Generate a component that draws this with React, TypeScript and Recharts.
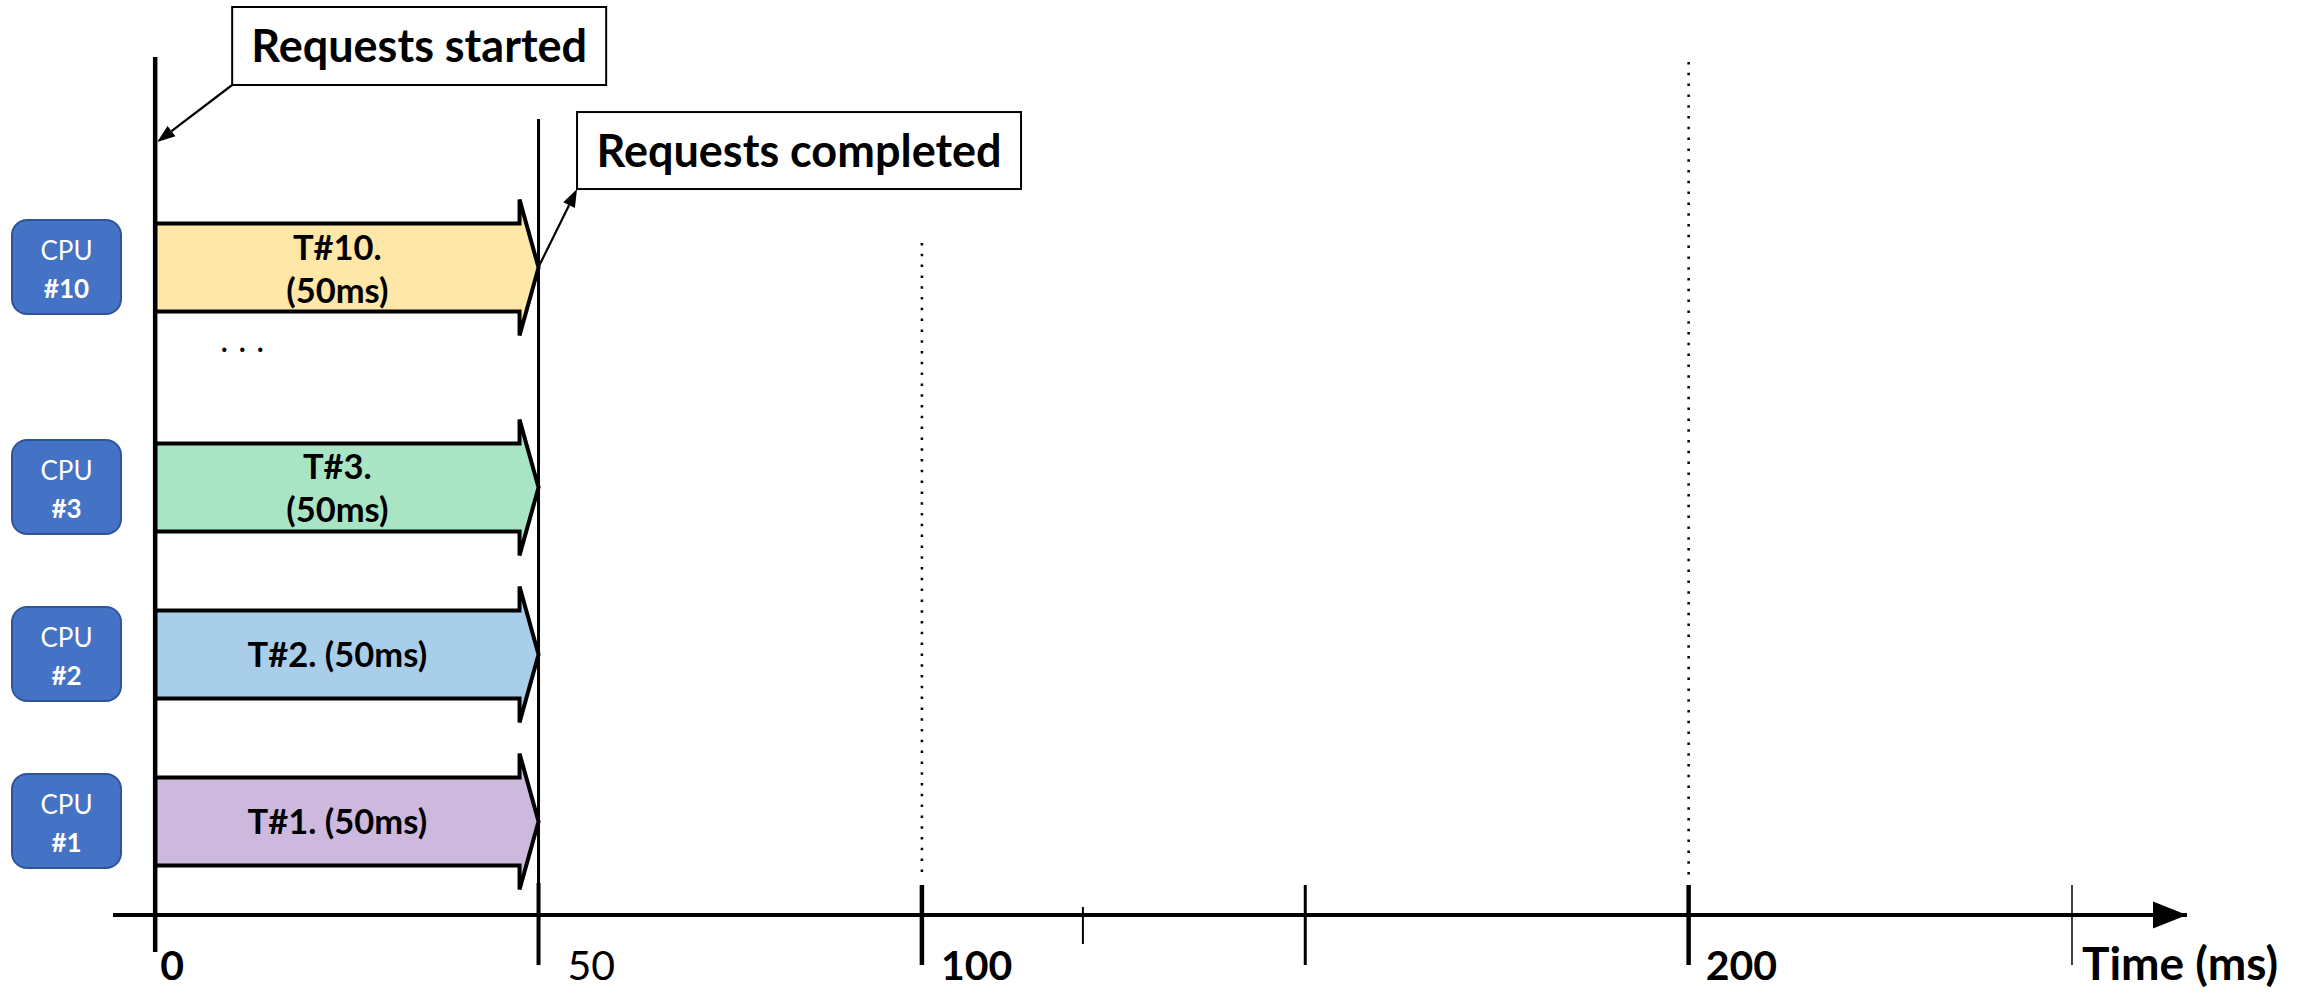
import React from 'react';
import { ComposedChart, Bar, XAxis, YAxis, ReferenceLine, ReferenceDot } from 'recharts';

// ---- data ----
const cpuIds = [1, 2, 3, 10];
const taskStarts = [0, 0, 0, 0];
const taskEnds = [50, 50, 50, 50];
const taskLabels = ['T#1. (50ms)', 'T#2. (50ms)', 'T#3.\n(50ms)', 'T#10.\n(50ms)'];

const timeTicks = [0, 50, 100, 121, 150, 200, 250];
const timeTickLabels = ['0', '50', '100', '', '', '200', 'Time (ms)'];

const startedAt = 0;
const completedAt = 50;
const guideTimes = [100, 200];

// ---- layout ----
const W = 2307;
const H = 994;
const PLOT_LEFT = 113;
const PLOT_RIGHT = 2187;
const AXIS_Y = 915;
const X_DOMAIN: [number, number] = [-5.5, 265];
const LANE_PX = 167;
const Y_MIN = 0.437;
const Y_MAX = Y_MIN + AXIS_Y / LANE_PX;
const ROWS_BEFORE_GAP = 3;
const ELLIPSIS_GAP = 0.317;

const laneOf = (i: number) => i + 1 + (i >= ROWS_BEFORE_GAP ? ELLIPSIS_GAP : 0);
const pxToLane = (py: number) => Y_MAX - py / LANE_PX;

const FONT = "Lato, 'Noto Sans', sans-serif";
const TASK_FILLS = ['#CDB9DE', '#A9CEE9', '#A9E5C5', '#FFE7A7'];

const TICK_STYLE: Record<number, { w: number; up: number; down: number; dx: number; bold: boolean; fs: number }> = {
  0: { w: 4.5, up: 0, down: 37, dx: 5, bold: true, fs: 41 },
  50: { w: 4, up: 32, down: 50, dx: 29, bold: false, fs: 41 },
  100: { w: 4.5, up: 30, down: 50, dx: 19, bold: true, fs: 41 },
  121: { w: 2, up: 8, down: 29, dx: 0, bold: false, fs: 41 },
  150: { w: 3, up: 30, down: 50, dx: 0, bold: false, fs: 41 },
  200: { w: 4.5, up: 30, down: 50, dx: 17, bold: true, fs: 41 },
  250: { w: 1.5, up: 30, down: 50, dx: 10, bold: true, fs: 46 },
};

const lanes = cpuIds.map((_, i) => laneOf(i));

const chartData = cpuIds.map((id, i) => ({
  cpu: id,
  lane: lanes[i],
  span: [taskStarts[i], taskEnds[i]],
  label: taskLabels[i],
}));

const arrowHead = (fx: number, fy: number, tx: number, ty: number, len = 18, wid = 13) => {
  const d = Math.hypot(tx - fx, ty - fy);
  const ux = (tx - fx) / d;
  const uy = (ty - fy) / d;
  const bx = tx - ux * len;
  const by = ty - uy * len;
  const nx = -uy * (wid / 2);
  const ny = ux * (wid / 2);
  return { bx, by, pts: `${tx},${ty} ${bx + nx},${by + ny} ${bx - nx},${by - ny}` };
};

const TaskArrow = (props: any) => {
  const { x, y, width, height, payload, index } = props;
  const cy = y + height / 2;
  const top = cy - 44;
  const bot = cy + 44;
  const tip = x + width;
  const notch = tip - 19;
  const barb = 24;
  const pts = [
    [x, top], [notch, top], [notch, top - barb], [tip, cy],
    [notch, bot + barb], [notch, bot], [x, bot],
  ].map((p) => p.join(',')).join(' ');
  const lines: string[] = payload.label.split('\n');
  const tx = (x + notch) / 2;
  const baselines = lines.length > 1 ? [cy - 8, cy + 35] : [cy + 13];
  return (
    <g>
      <polygon points={pts} fill={TASK_FILLS[index]} stroke="#000" strokeWidth={4} strokeMiterlimit={2} />
      {lines.map((t, k) => (
        <text key={k} x={tx} y={baselines[k]} textAnchor="middle" fontFamily={FONT} fontWeight={700} fontSize={34.5} fill="#000">
          {t}
        </text>
      ))}
    </g>
  );
};

const CpuTick = (props: any) => {
  const { x, y, payload } = props;
  const i = lanes.findIndex((l) => Math.abs(l - payload.value) < 1e-6);
  if (i < 0) return null;
  const left = x - 101;
  const cx = left + 54.5;
  return (
    <g>
      <rect x={left} y={y - 47} width={109} height={94} rx={15} fill="#4472C4" stroke="#2F5597" strokeWidth={2} />
      <text x={cx} y={y - 7} textAnchor="middle" fontFamily={FONT} fontSize={26} fill="#fff">CPU</text>
      <text x={cx} y={y + 31} textAnchor="middle" fontFamily={FONT} fontWeight={700} fontSize={26} fill="#fff">
        #{cpuIds[i]}
      </text>
    </g>
  );
};

const TimeTick = (props: any) => {
  const { x, y, payload } = props;
  const v = payload.value;
  const s = TICK_STYLE[v];
  const i = timeTicks.indexOf(v);
  const label = i >= 0 ? timeTickLabels[i] : '';
  return (
    <g>
      <line x1={x} x2={x} y1={y - s.up} y2={y + s.down} stroke="#000" strokeWidth={s.w} />
      {label && (
        <text x={x + s.dx} y={y + 65} fontFamily={FONT} fontSize={s.fs} fontWeight={s.bold ? 700 : 400} fill="#000">
          {label}
        </text>
      )}
    </g>
  );
};

const Callout = ({ cx, cy, dx, dy, w, h, text, pointAtBox }: any) => {
  // box's near corner sits at (cx + dx, cy + dy)
  const bx = cx + dx;
  const corner = { x: bx, y: cy + dy };
  const boxTop = dy < 0 ? corner.y - h : corner.y;
  const from = pointAtBox ? { x: cx, y: cy } : corner;
  const to = pointAtBox ? corner : { x: cx + 2, y: cy };
  const head = arrowHead(from.x, from.y, to.x, to.y);
  return (
    <g>
      <line x1={from.x} y1={from.y} x2={head.bx} y2={head.by} stroke="#000" strokeWidth={2.2} />
      <polygon points={head.pts} fill="#000" />
      <rect x={bx} y={boxTop} width={w} height={h} fill="#fff" stroke="#000" strokeWidth={2} />
      <text x={bx + w / 2} y={boxTop + h / 2 + 16} textAnchor="middle" fontFamily={FONT} fontWeight={700} fontSize={45} fill="#000">
        {text}
      </text>
    </g>
  );
};

export default function App() {
  return (
    <div style={{ position: 'absolute', left: 0, top: 0, background: '#fff' }}>
      <ComposedChart
        width={W}
        height={H}
        layout="vertical"
        data={chartData}
        margin={{ top: 0, right: W - PLOT_RIGHT, bottom: 0, left: 0 }}
      >
        <XAxis
          type="number"
          dataKey="span"
          domain={X_DOMAIN}
          allowDataOverflow
          ticks={timeTicks}
          interval={0}
          height={H - AXIS_Y}
          tickSize={0}
          tickMargin={0}
          tickLine={false}
          axisLine={{ stroke: '#000', strokeWidth: 4 }}
          tick={<TimeTick />}
        />
        <YAxis
          type="number"
          dataKey="lane"
          domain={[Y_MIN, Y_MAX]}
          allowDataOverflow
          reversed
          ticks={lanes}
          interval={0}
          width={PLOT_LEFT}
          tickSize={0}
          tickMargin={0}
          tickLine={false}
          axisLine={false}
          tick={<CpuTick />}
        />
        <Bar dataKey="span" barSize={88} isAnimationActive={false} shape={<TaskArrow />} />

        <ReferenceLine
          segment={[{ x: startedAt, y: pxToLane(57) }, { x: startedAt, y: Y_MIN }]}
          stroke="#000"
          strokeWidth={4.5}
        />
        <ReferenceLine
          segment={[{ x: completedAt, y: pxToLane(119) }, { x: completedAt, y: Y_MIN }]}
          stroke="#000"
          strokeWidth={3}
        />
        {guideTimes.map((t, i) => (
          <ReferenceLine
            key={t}
            segment={[{ x: t, y: pxToLane(i === 0 ? 243 : 62) }, { x: t, y: pxToLane(878) }]}
            stroke="#000"
            strokeWidth={2.5}
            strokeDasharray="2.5 8.3"
          />
        ))}

        <ReferenceDot
          x={12}
          y={pxToLane(352)}
          ifOverflow="visible"
          shape={(p: any) => (
            <text x={p.cx} y={p.cy} textAnchor="middle" fontFamily={FONT} fontSize={34} letterSpacing={10} fill="#000">
              ...
            </text>
          )}
        />
        <ReferenceDot
          x={startedAt}
          y={pxToLane(142)}
          ifOverflow="visible"
          shape={(p: any) => (
            <Callout cx={p.cx} cy={p.cy} dx={77} dy={-57} w={374} h={78} text="Requests started" pointAtBox={false} />
          )}
        />
        <ReferenceDot
          x={completedAt}
          y={lanes[lanes.length - 1]}
          ifOverflow="visible"
          shape={(p: any) => (
            <Callout cx={p.cx} cy={p.cy} dx={38.5} dy={-78} w={444} h={77} text="Requests completed" pointAtBox />
          )}
        />
        <ReferenceDot
          x={X_DOMAIN[1]}
          y={Y_MIN}
          ifOverflow="visible"
          shape={(p: any) => (
            <polygon points={`${p.cx - 34},${p.cy - 13.5} ${p.cx},${p.cy} ${p.cx - 34},${p.cy + 13.5}`} fill="#000" />
          )}
        />
      </ComposedChart>
    </div>
  );
}
